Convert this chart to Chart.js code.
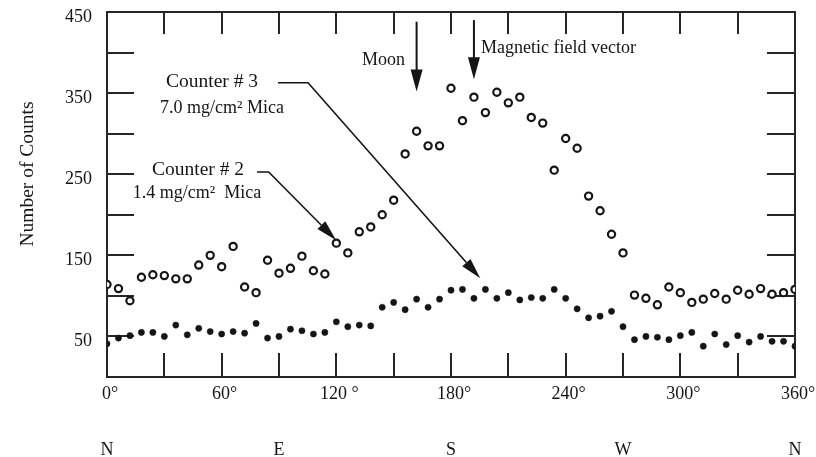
<!DOCTYPE html>
<html><head><meta charset="utf-8">
<script src="https://cdn.jsdelivr.net/npm/chart.js@4.4.1/dist/chart.umd.min.js"></script>
<style>html,body{margin:0;padding:0;background:#fff}#wrap{width:816px;height:457px;position:relative}canvas{display:block}</style>
</head><body><div id="wrap"><canvas id="c" width="816" height="457"></canvas></div>
<script>
// Azimuth angles (degrees)
const angles = [0,6,12,18,24,30,36,42,48,54,60,66,72,78,84,90,96,102,108,114,120,126,132,138,144,150,156,162,168,174,180,186,192,198,204,210,216,222,228,234,240,246,252,258,264,270,276,282,288,294,300,306,312,318,324,330,336,342,348,354,360];
// Counter # 2 (1.4 mg/cm2 Mica) - open circles
const counter2 = [114,109,94,123,126,125,121,121,138,150,136,161,111,104,144,128,134,149,131,127,165,153,179,185,200,218,275,303,285,285,356,316,345,326,351,338,345,320,313,255,294,282,223,205,176,153,101,97,89,111,104,92,96,103,96,107,102,109,102,104,108];
// Counter # 3 (7.0 mg/cm2 Mica) - filled dots
const counter3 = [41,48,51,55,55,50,64,52,60,56,53,56,54,66,48,50,59,57,53,55,68,62,64,63,86,92,83,96,86,96,107,108,97,108,97,104,95,98,97,108,97,84,73,75,81,62,46,50,49,46,51,55,38,53,40,51,43,50,44,44,38];

const xTickValues = [0,60,120,180,240,300,360];
const xTickLabels = ['0°','60°','120 °','180°','240°','300°','360°'];
const compassValues = [0,90,180,270,360];
const compassLabels = ['N','E','S','W','N'];
const yLabelValues = [50,150,250,350,450];
const yLabelTexts = ['50','150','250','350','450'];
const xMarkValues = [30,60,90,120,150,180,210,240,270,300,330];
const yMarkValues = [50,100,150,200,250,300,350,400];

const SERIF = '"Liberation Serif","Times New Roman",serif';
const INK = '#151515';

function arrowHead(ctx, x1, y1, x2, y2, len, halfW){
  const a = Math.atan2(y2-y1, x2-x1);
  const bx = x2 - len*Math.cos(a), by = y2 - len*Math.sin(a);
  ctx.beginPath();
  ctx.moveTo(x2, y2);
  ctx.lineTo(bx + halfW*Math.sin(a), by - halfW*Math.cos(a));
  ctx.lineTo(bx - halfW*Math.sin(a), by + halfW*Math.cos(a));
  ctx.closePath();
  ctx.fill();
  return [bx, by];
}

const framePlugin = {
  id: 'frame',
  beforeDatasetsDraw(chart){
    const {ctx, chartArea: a, scales: {x, y}} = chart;
    ctx.save();
    ctx.strokeStyle = '#262626';
    ctx.lineWidth = 2;
    ctx.strokeRect(a.left, a.top, a.right - a.left, a.bottom - a.top);
    ctx.beginPath();
    xMarkValues.forEach(v => {
      const px = Math.round(x.getPixelForValue(v));
      ctx.moveTo(px, a.top); ctx.lineTo(px, a.top + 22);
      ctx.moveTo(px, a.bottom); ctx.lineTo(px, a.bottom - 24);
    });
    yMarkValues.forEach(v => {
      const py = Math.round(y.getPixelForValue(v));
      ctx.moveTo(a.left, py); ctx.lineTo(a.left + 27, py);
      ctx.moveTo(a.right, py); ctx.lineTo(a.right - 28, py);
    });
    ctx.stroke();
    ctx.restore();
  },
  afterDatasetsDraw(chart){
    const {ctx, scales: {x, y}} = chart;
    const P = (d, v) => [x.getPixelForValue(d), y.getPixelForValue(v)];
    ctx.save();
    ctx.fillStyle = INK; ctx.strokeStyle = INK;
    // y title
    ctx.save();
    ctx.translate(28, 174);
    ctx.rotate(-Math.PI/2);
    ctx.font = '19.5px ' + SERIF;
    ctx.textAlign = 'center'; ctx.textBaseline = 'middle';
    ctx.fillText('Number of Counts', 0, 0);
    ctx.restore();

    // vertical arrows
    ctx.lineWidth = 2;
    [[162, 438, 352], [192, 440, 367]].forEach(([d, v1, v2]) => {
      const [x1, y1] = P(d, v1), [x2, y2] = P(d, v2);
      const [bx, by] = arrowHead(ctx, x1, y1, x2, y2, 22, 6);
      ctx.beginPath(); ctx.moveTo(x1, y1); ctx.lineTo(bx, by + 1); ctx.stroke();
    });
    // Counter # 3 leader
    ctx.lineWidth = 1.6;
    {
      const s = P(89.5, 362.8), c = P(105.2, 362.8), t = P(195.3, 121.7);
      const [bx, by] = arrowHead(ctx, c[0], c[1], t[0], t[1], 21, 5.5);
      ctx.beginPath(); ctx.moveTo(s[0], s[1]); ctx.lineTo(c[0], c[1]); ctx.lineTo(bx, by); ctx.stroke();
    }
    // Counter # 2 leader
    {
      const s = P(78.5, 252.8), c = P(84.6, 252.8), t = P(119.9, 168.7);
      const [bx, by] = arrowHead(ctx, c[0], c[1], t[0], t[1], 21, 5.5);
      ctx.beginPath(); ctx.moveTo(s[0], s[1]); ctx.lineTo(c[0], c[1]); ctx.lineTo(bx, by); ctx.stroke();
    }
    // texts
    ctx.textBaseline = 'middle';
    ctx.font = '19.5px ' + SERIF;
    ctx.textAlign = 'center';
    ctx.fillText('Counter # 3', 212, 82);
    ctx.fillText('Counter # 2', 198, 170);
    ctx.font = '18px ' + SERIF;
    ctx.fillText('7.0 mg/cm² Mica', 222, 108);
    ctx.fillText('1.4 mg/cm²  Mica', 197, 193);
    ctx.textAlign = 'right';
    ctx.fillText('Moon', 405, 60);
    ctx.textAlign = 'left';
    ctx.fillText('Magnetic field vector', 481, 48);
    ctx.restore();
  }
};

const tickFont = {family: SERIF, size: 18};
const noPad = s => { s.paddingLeft = 0; s.paddingRight = 0; s.paddingTop = 0; s.paddingBottom = 0; };

new Chart(document.getElementById('c'), {
  type: 'scatter',
  data: {
    datasets: [
      {
        label: 'Counter # 2',
        data: angles.map((a, i) => ({x: a, y: counter2[i]})),
        pointStyle: 'circle', pointRadius: 3.6, pointBorderWidth: 2.2,
        pointBackgroundColor: '#fff', pointBorderColor: INK,
        showLine: false, clip: 0
      },
      {
        label: 'Counter # 3',
        data: angles.map((a, i) => ({x: a, y: counter3[i]})),
        pointStyle: 'circle', pointRadius: 3.1, pointBorderWidth: 0.5,
        pointBackgroundColor: INK, pointBorderColor: INK,
        showLine: false, clip: 0
      }
    ]
  },
  options: {
    responsive: false, animation: false, devicePixelRatio: 1,
    layout: {padding: {top: 12, right: 21, left: 0, bottom: 0}},
    plugins: {legend: {display: false}, tooltip: {enabled: false}},
    scales: {
      x: {
        type: 'linear', position: 'bottom', min: 0, max: 360, weight: 0,
        afterBuildTicks: s => { s.ticks = xTickValues.map(v => ({value: v})); },
        ticks: {
          callback: v => xTickLabels[xTickValues.indexOf(v)],
          font: tickFont, color: INK, padding: 6, maxRotation: 0, minRotation: 0,
          autoSkip: false, labelOffset: 3
        },
        grid: {display: false, drawTicks: false}, border: {display: false},
        afterFit: s => { s.height = 40; noPad(s); }
      },
      x2: {
        type: 'linear', position: 'bottom', min: 0, max: 360, weight: 1,
        afterBuildTicks: s => { s.ticks = compassValues.map(v => ({value: v})); },
        ticks: {
          callback: v => compassLabels[compassValues.indexOf(v)],
          font: tickFont, color: INK, padding: 22, maxRotation: 0, minRotation: 0,
          autoSkip: false
        },
        grid: {display: false, drawTicks: false}, border: {display: false},
        afterFit: s => { s.height = 40; noPad(s); }
      },
      y: {
        type: 'linear', position: 'left', min: 0, max: 450,
        afterBuildTicks: s => { s.ticks = yLabelValues.map(v => ({value: v})); },
        ticks: {
          callback: v => yLabelTexts[yLabelValues.indexOf(v)],
          font: tickFont, color: INK, padding: 15, labelOffset: 5, autoSkip: false
        },
        grid: {display: false, drawTicks: false}, border: {display: false},
        afterFit: s => { s.width = 107; noPad(s); }
      }
    }
  },
  plugins: [framePlugin]
});
</script>
</body></html>
